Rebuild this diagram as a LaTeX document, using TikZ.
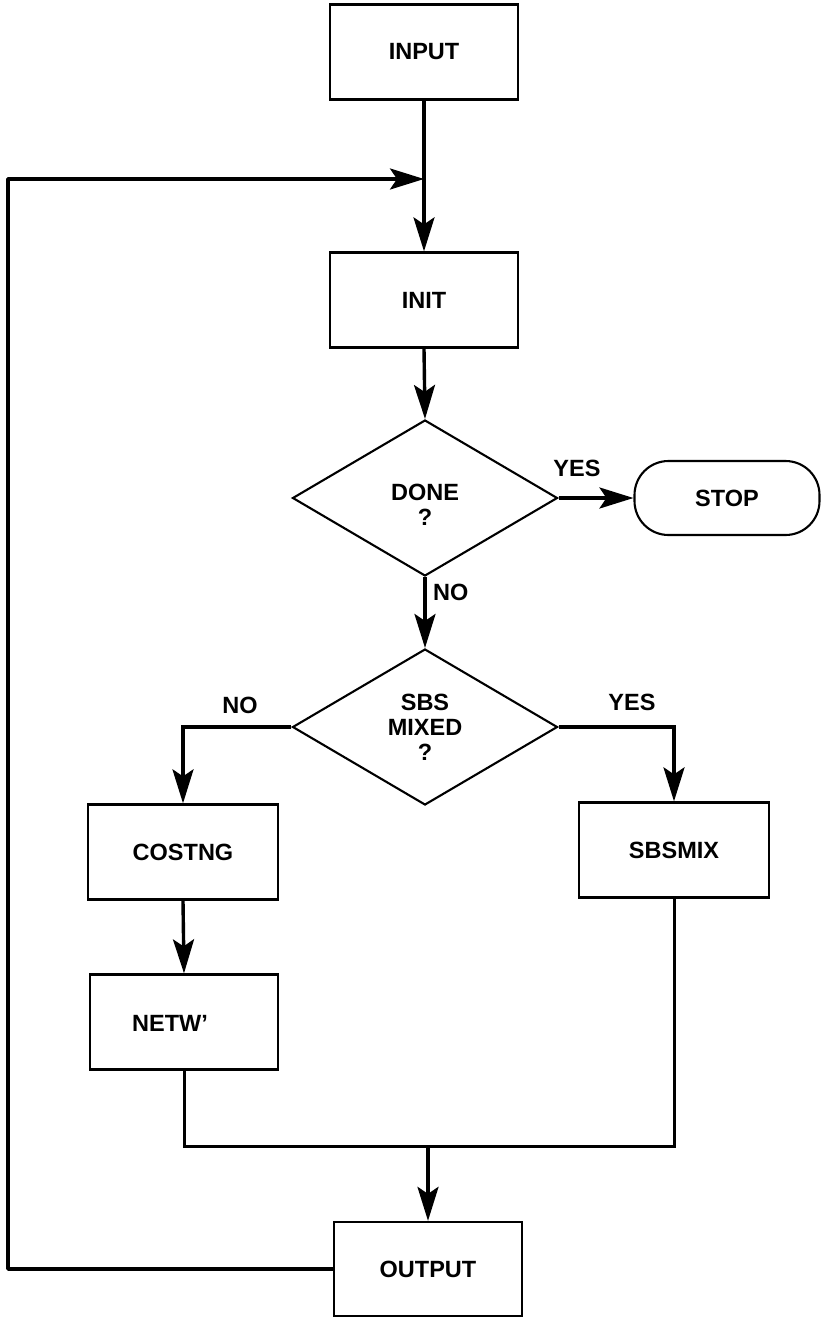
\documentclass[tikz,border=0pt]{standalone}
\usepackage{fontspec}
\setmainfont{Liberation Sans}
\usetikzlibrary{shapes.geometric,arrows.meta}
\begin{document}
\begin{tikzpicture}[x=1pt,y=-1pt,
  font=\fontsize{23.5}{25}\selectfont\bfseries,
  box/.style={draw,line width=2.3pt,minimum width=188pt,minimum height=95pt,inner sep=0pt},
  decision/.style={draw,diamond,line width=2.1pt,minimum width=265pt,minimum height=156pt,inner sep=0pt,align=center},
  terminal/.style={draw,rectangle,rounded corners=34pt,line width=2.1pt,minimum width=185pt,minimum height=74pt,inner sep=0pt},
  lbl/.style={inner sep=0pt,align=center},
  flow/.style={line width=3.4pt,-{Stealth[length=34pt,width=21pt,inset=7pt]}},
  link/.style={line width=3pt}
]
\useasboundingbox (0,0) rectangle (820,1317);

% process boxes and decisions
\node[box] (input) at (424,52) {INPUT};
\node[box] (init) at (424,300) {INIT};
\node[decision] (done) at (425,498) {};
\node[lbl] (donetext) at (425,505) {DONE\\?};
\node[terminal] (stop) at (727,498) {STOP};
\node[decision] (mixed) at (425,727) {SBS\\MIXED\\?};
\node[box,minimum width=190pt] (costng) at (183,852) {COSTNG};
\node[box,minimum width=190pt] (sbsmix) at (674,850) {SBSMIX};
\node[box] (netw) at (184,1022) {};
\node[lbl] (netwtext) at (170,1023) {NETW'};
\node[box,minimum height=94pt] (output) at (428,1269) {OUTPUT};

% branch labels
\node[lbl] (yesdone) at (577,468) {YES};
\node[lbl,anchor=west] (nodone) at (433,592) {NO};
\node[lbl] (nomixed) at (240,705) {NO};
\node[lbl] (yesmixed) at (632,702) {YES};

% junction points
\coordinate (join) at (424,179);
\coordinate (loopbottom) at (8,1269);
\coordinate (looptop) at (8,179);
\coordinate (mergeright) at (674,1146);
\coordinate (merge) at (428,1146);

% main flow
\draw[flow] (input.south) -- (init.north);
\draw[flow,line join=round] (output.west) -- (loopbottom) -- (looptop) -- (join);
\draw[flow] (init.south) -- (done.north);
\draw[flow] (done.east) -- (stop.west);
\draw[flow] (done.south) -- (mixed.north);
\draw[flow] (mixed.west) -| (costng.north);
\draw[flow] (mixed.east) -| (sbsmix.north);
\draw[flow] (costng.south) -- (netw.north);
\draw[link] (netw.south) |- (mergeright) -- (sbsmix.south);
\draw[flow] (merge) -- (output.north);
\end{tikzpicture}
\end{document}
